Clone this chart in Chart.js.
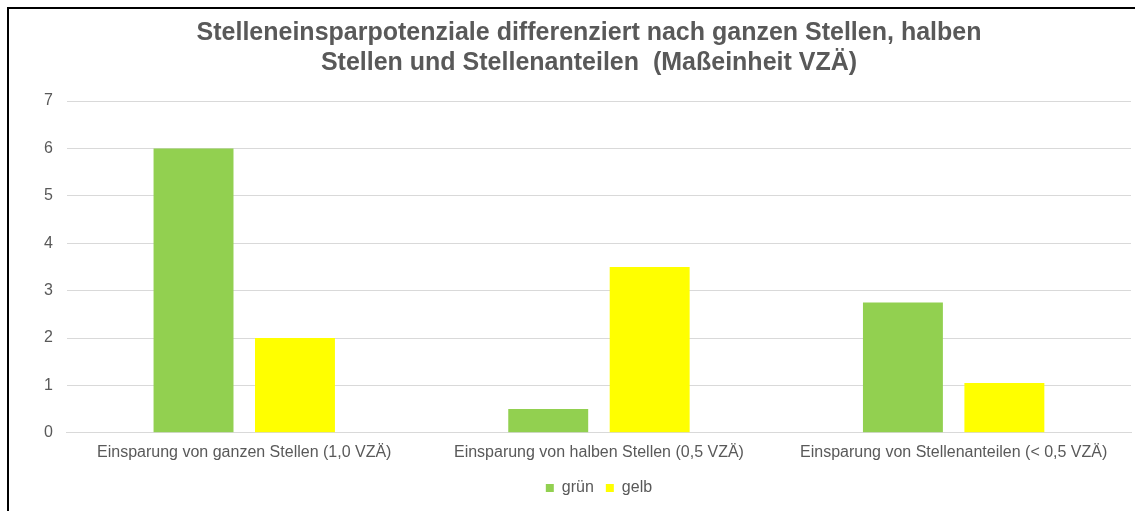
<!DOCTYPE html>
<html>
<head>
<meta charset="utf-8">
<script src="https://cdn.jsdelivr.net/npm/chart.js@4"></script>
<style>
  html, body { margin: 0; padding: 0; background: #fff; overflow: hidden; }
  #frame { position: absolute; left: 7px; top: 7px; width: 1200px; height: 560px;
           border-top: 2px solid #000; border-left: 2px solid #000; }
  #wrap { position: absolute; left: 9px; top: 9px; width: 1180px; height: 502px; }
</style>
</head>
<body>
<div id="frame"></div>
<div id="wrap"><canvas id="vzaChart"></canvas></div>
<script>
const categories = [
    'Einsparung von ganzen Stellen (1,0 VZÄ)',
    'Einsparung von halben Stellen (0,5 VZÄ)',
    'Einsparung von Stellenanteilen (< 0,5 VZÄ)'
];
const gruen = [6, 0.5, 2.75];
const gelb = [2, 3.5, 1.05];
const yTicks = [0, 1, 2, 3, 4, 5, 6, 7];

const textGrey = '#595959';
const fontFam = 'Liberation Sans, Arial, sans-serif';

window.onload = function() {
    const ctx = document.getElementById('vzaChart').getContext('2d');

    new Chart(ctx, {
        type: 'bar',
        data: {
            labels: categories,
            datasets: [
                { label: 'grün', data: gruen, backgroundColor: '#92d050', borderWidth: 0 },
                { label: 'gelb', data: gelb, backgroundColor: '#ffff00', borderWidth: 0 }
            ]
        },
        options: {
            responsive: true,
            maintainAspectRatio: false,
            animation: false,
            categoryPercentage: 0.572,
            barPercentage: 0.788,
            layout: { padding: { left: 21, right: 41, top: 9, bottom: 5 } },
            plugins: {
                title: {
                    display: true,
                    text: ['Stelleneinsparpotenziale differenziert nach ganzen Stellen, halben',
                           'Stellen und Stellenanteilen  (Maßeinheit VZÄ)'],
                    color: textGrey,
                    font: { family: fontFam, size: 25, weight: 'bold', lineHeight: 1.2 },
                    padding: { top: 0, bottom: 23 }
                },
                legend: {
                    position: 'bottom',
                    fullSize: false,
                    labels: {
                        color: textGrey,
                        boxWidth: 8,
                        boxHeight: 8,
                        padding: 12,
                        font: { family: fontFam, size: 16 }
                    }
                },
                tooltip: { enabled: false }
            },
            scales: {
                x: {
                    grid: { display: false, drawTicks: false },
                    border: { display: true, color: '#d9d9d9' },
                    afterFit: function(s) { s.height -= 4; },
                    ticks: {
                        color: textGrey,
                        padding: 10,
                        maxRotation: 0,
                        font: { family: fontFam, size: 16 }
                    }
                },
                y: {
                    min: 0,
                    max: 7,
                    afterBuildTicks: function(axis) { axis.ticks = yTicks.map(v => ({ value: v })); },
                    grid: { color: '#d9d9d9', drawTicks: false },
                    border: { display: false },
                    ticks: {
                        color: textGrey,
                        padding: 14,
                        font: { family: fontFam, size: 16 }
                    }
                },
                // empty right-hand spacer so the title sits where the original has it
                yRight: {
                    position: 'right',
                    grid: { display: false, drawTicks: false },
                    border: { display: false },
                    ticks: { display: false },
                    afterFit: function(s) { s.width = 17; }
                }
            }
        }
    });
};
</script>
</body>
</html>
